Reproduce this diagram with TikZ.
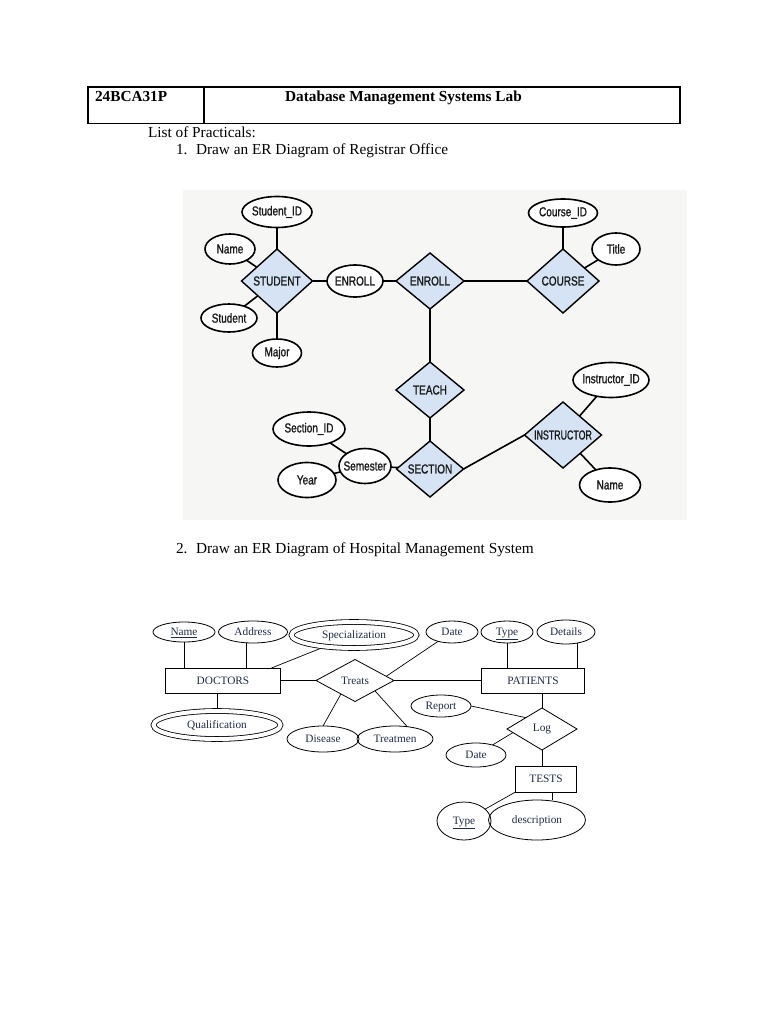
\documentclass[tikz,border=0pt]{standalone}
\usepackage{fontspec}
\setmainfont{Liberation Serif}
\newfontfamily\erfont[FakeStretch=0.77,FakeBold=1.2]{Liberation Sans}
\newfontfamily\erfontn[FakeStretch=0.68,FakeBold=1.2]{Liberation Sans}
\usetikzlibrary{shapes.geometric,calc}
\definecolor{diafill}{HTML}{D5E3F4}
\definecolor{bggray}{HTML}{F6F6F4}
\definecolor{hosptext}{HTML}{1E2A44}
\definecolor{ertext}{HTML}{1A1A1A}
\begin{document}
\begin{tikzpicture}[x=1pt,y=-1pt,
  every node/.style={inner sep=0pt,outer sep=0pt},
  txt/.style={font=\fontsize{15.3}{18}\selectfont,anchor=base west},
  attr/.style 2 args={ellipse,draw,line width=1.6pt,fill=white,
    minimum width=#1pt,minimum height=#2pt,inner xsep=-8pt,inner ysep=-2pt,
    font=\erfont\fontsize{13}{15}\selectfont,text=ertext},
  rel/.style 2 args={diamond,draw,line width=1.4pt,fill=diafill,aspect=1.15,
    minimum width=#1pt,minimum height=#2pt,
    font=\erfont\fontsize{13}{15}\selectfont,text=ertext},
  conn/.style={line width=1.6pt},
  hattr/.style 2 args={ellipse,draw,line width=0.8pt,
    minimum width=#1pt,minimum height=#2pt,inner xsep=-6pt,inner ysep=-1pt,
    text height=9pt,text depth=2pt,
    font=\fontsize{11.3}{13}\selectfont,text=hosptext},
  hmulti/.style={double,double distance=4pt,outer sep=2.8pt},
  hent/.style 2 args={rectangle,draw,line width=0.8pt,
    minimum width=#1pt,minimum height=#2pt,
    font=\fontsize{11.3}{13}\selectfont,text=hosptext},
  hrel/.style n args={3}{diamond,draw,line width=0.8pt,aspect=#3,
    minimum width=#1pt,minimum height=#2pt,
    font=\fontsize{11.3}{13}\selectfont,text=hosptext},
  hconn/.style={line width=0.7pt}
]
\useasboundingbox (0,0) rectangle (768,1024);

% ---------- header ----------
\draw[line width=1.2pt] (88,87) rectangle (680,123.5);
\draw[line width=1.2pt] (204,87) -- (204,123.5);
\node[txt] (code) at (95,101.5) {\bfseries 24BCA31P};
\node[txt,anchor=base] (title) at (403.5,101.5) {\bfseries Database Management Systems Lab};
\node[txt] (lop) at (148,137.5) {List of Practicals:};
\node[txt] (n1) at (176,154.5) {1.};
\node[txt] (t1) at (196,154.5) {Draw an ER Diagram of Registrar Office};
\node[txt] (n2) at (176,553.5) {2.};
\node[txt] (t2) at (196,553.5) {Draw an ER Diagram of Hospital Management System};

% ---------- diagram 1 ----------
\fill[bggray] (183,190.5) rectangle (687,520);
\node[attr={70}{31}] (sid) at (277,212) {Student\_ID};
\node[attr={50}{30}] (nm1) at (230,249) {Name};
\node[rel={71}{64}] (stu) at (277,281) {STUDENT};
\node[attr={56}{28}] (st1) at (229,318) {Student};
\node[attr={49}{28}] (maj) at (277,353) {Major};
\node[attr={56}{32}] (en1) at (355,281) {ENROLL};
\node[rel={68}{56}] (en2) at (430,281) {ENROLL};
\node[rel={72}{64}] (cou) at (563,281) {COURSE};
\node[attr={69}{28}] (cid) at (563,213) {Course\_ID};
\node[attr={48}{32}] (tit) at (616,249) {Title};
\node[rel={68}{56}] (tea) at (430,390) {TEACH};
\node[rel={67}{56}] (sec) at (430,469) {SECTION};
\node[attr={52}{35}] (sem) at (365,466) {Semester};
\node[attr={72}{34}] (sid2) at (309,429) {Section\_ID};
\node[attr={58}{35}] (yr) at (307,480) {Year};
\node[rel={77}{66},font=\erfontn\fontsize{13}{15}\selectfont] (ins) at (563,435) {INSTRUCTOR};
\node[attr={76}{35}] (iid) at (611,380) {Instructor\_ID};
\node[attr={61}{34}] (nm2) at (610,485) {Name};

\draw[conn] (sid) -- (stu);
\draw[conn] (nm1) -- (stu);
\draw[conn] (st1) -- (stu);
\draw[conn] (maj) -- (stu);
\draw[conn] (stu) -- (en1);
\draw[conn] (en1) -- (en2);
\draw[conn] (en2) -- (cou);
\draw[conn] (cid) -- (cou);
\draw[conn] (tit) -- (cou);
\draw[conn] (en2) -- (tea);
\draw[conn] (tea) -- (sec);
\draw[conn] (sec) -- (sem);
\draw[conn] (sem) -- (sid2);
\draw[conn] (sem) -- (yr);
\draw[conn] (sec.east) -- (ins.west);
\draw[conn] (ins) -- (iid);
\draw[conn] (ins) -- (nm2);

% ---------- diagram 2 ----------
\node[hattr={62}{20}] (hn) at (184,632) {\underline{Name}};
\node[hattr={69}{22}] (had) at (253,632) {Address};
\node[hattr={125}{26},hmulti] (hsp) at (354,635) {Specialization};
\node[hent={115}{25}] (hdoc) at (223,680.5) {DOCTORS};
\node[hrel={78}{42}{1.86}] (htr) at (355,680.5) {Treats};
\node[hattr={127}{28},hmulti] (hql) at (217,725) {Qualification};
\node[hattr={72}{26}] (hds) at (323,739) {Disease};
\node[hattr={76}{26}] (htm) at (395,739) {Treatmen};
\node[hattr={52}{22}] (hdt) at (452,632) {Date};
\node[hattr={52}{22}] (hty) at (507,632) {\underline{Type}};
\node[hattr={58}{24}] (hde) at (566,632) {Details};
\node[hent={103}{25}] (hpa) at (533,680.5) {PATIENTS};
\node[hattr={60}{22}] (hrp) at (441,706) {Report};
\node[hrel={70}{42}{1.67}] (hlg) at (542,729) {Log};
\node[hattr={60}{24}] (hd2) at (476,755) {Date};
\node[hent={61}{26}] (hts) at (546,779) {TESTS};
\node[hattr={54}{38}] (hty2) at (464,821) {\underline{Type}};
\node[hattr={97}{40}] (hdes) at (537,820) {description};

\coordinate (adb) at (had.237);
\coordinate (deb) at (hde.315);
\coordinate (docne) at ([xshift=-9pt]hdoc.north east);
\coordinate (tsb) at ([xshift=6pt]hts.south);

\draw[hconn] (hn) -- (hn |- hdoc.north);
\draw[hconn] (adb) -- (adb |- hdoc.north);
\draw[hconn] (docne) -- (hsp);
\draw[hconn] (hdoc) -- (htr);
\draw[hconn] (hql) -- (hql |- hdoc.south);
\draw[hconn] ($(htr.west)!0.64!(htr.south)$) -- (hds.north);
\draw[hconn] ($(htr.south)!0.51!(htr.east)$) -- (htm.45);
\draw[hconn] (htr) -- (hpa);
\draw[hconn] (hdt) -- ($(htr.north)!0.8!(htr.east)$);
\draw[hconn] (hty) -- (hty |- hpa.north);
\draw[hconn] (deb) -- (deb |- hpa.north);
\draw[hconn] (hlg) -- (hlg |- hpa.south);
\draw[hconn] (hrp.east) -- ($(hlg.west)!0.54!(hlg.north)$);
\draw[hconn] (hd2) -- ($(hlg.west)!0.17!(hlg.south)$);
\draw[hconn] (hlg) -- (hlg |- hts.north);
\draw[hconn] (hts.south west) -- (hty2);
\draw[hconn] (tsb) -- (tsb |- hdes.north);
\end{tikzpicture}
\end{document}
